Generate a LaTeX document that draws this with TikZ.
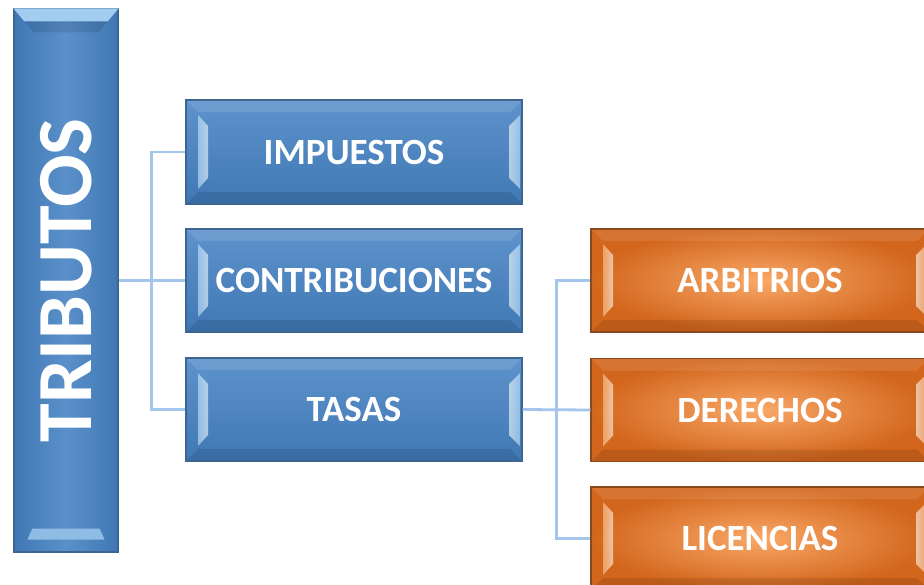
\documentclass[tikz,border=0pt]{standalone}
\usepackage{fontspec}
\setmainfont{Carlito}
\definecolor{bluetop}{HTML}{5E93CC}
\definecolor{bluebot}{HTML}{3F78B4}
\definecolor{blueedge}{HTML}{3C6690}
\definecolor{orgout}{HTML}{D2661C}
\definecolor{orgin}{HTML}{F9A868}
\definecolor{orgedge}{HTML}{8A4A1E}
\definecolor{connblue}{HTML}{A4C6EC}
\definecolor{cyanlight}{HTML}{BFE6FF}
\definecolor{peach}{HTML}{FFC894}
\newcommand\hbevel[1]{%
  \fill[white,opacity=0.10] (path picture bounding box.north west) -- (path picture bounding box.north east)
     -- ([shift={(-12,12)}]path picture bounding box.north east) -- ([shift={(12,12)}]path picture bounding box.north west) -- cycle;
  \fill[black,opacity=0.10] (path picture bounding box.south west) -- (path picture bounding box.south east)
     -- ([shift={(-12,-12)}]path picture bounding box.south east) -- ([shift={(12,-12)}]path picture bounding box.south west) -- cycle;
  \shade[left color=#1, right color=#1!55!black!0, opacity=0.6] ([shift={(12,15)}]path picture bounding box.north west)
     -- ([shift={(22,26)}]path picture bounding box.north west) -- ([shift={(22,-26)}]path picture bounding box.south west)
     -- ([shift={(12,-15)}]path picture bounding box.south west) -- cycle;
  \shade[left color=#1!30!white!0, right color=#1, opacity=0.6] ([shift={(-2,15)}]path picture bounding box.north east)
     -- ([shift={(-13,26)}]path picture bounding box.north east) -- ([shift={(-13,-26)}]path picture bounding box.south east)
     -- ([shift={(-2,-15)}]path picture bounding box.south east) -- cycle;
}
\tikzset{
  conn/.style={draw=connblue, line width=2.8pt},
  basebox/.style={rectangle, inner sep=0pt, text=white, line width=1.2pt,
     font=\bfseries\fontsize{37}{44}\selectfont},
  bluebox/.style={basebox, minimum width=336pt, minimum height=104pt,
     top color=bluetop, bottom color=bluebot, draw=blueedge, path picture={\hbevel{cyanlight}}},
  orangebox/.style={basebox, minimum width=338pt, minimum height=103pt,
     inner color=orgin, outer color=orgout, draw=orgedge, path picture={\hbevel{peach}}},
  bigbox/.style={rectangle, inner sep=0pt, minimum width=104pt, minimum height=543pt,
     left color=bluebot, right color=bluebot, middle color=bluetop!90!bluebot, draw=blueedge, line width=1.2pt,
     text=white}
}
\begin{document}
\begin{tikzpicture}[x=1pt,y=-1pt]
\useasboundingbox (0,0) rectangle (924,584);
\clip (0,0) rectangle (924,584);
\fill[white] (0,0) rectangle (924,584);
% main vertical box
\node[bigbox] (trib) at (66,280.5) {};
\fill[cyanlight!70!bluetop] (trib.north west) -- (trib.north east) -- ([shift={(-11,13)}]trib.north east) -- ([shift={(11,13)}]trib.north west) -- cycle;
\fill[black,opacity=0.1] ([shift={(11,13)}]trib.north west) -- ([shift={(-11,13)}]trib.north east) -- ([shift={(-20,24)}]trib.north east) -- ([shift={(20,24)}]trib.north west) -- cycle;
\fill[cyanlight!50!bluetop] ([shift={(19,-24)}]trib.south west) -- ([shift={(-19,-24)}]trib.south east) -- ([shift={(-14,-13)}]trib.south east) -- ([shift={(14,-13)}]trib.south west) -- cycle;
\node[text=white, font=\bfseries\fontsize{78}{84}\selectfont, rotate=90] (tribt) at (trib.center) {TRIBUTOS};
% blue boxes
\node[bluebox] (imp) at (354,152) {IMPUESTOS};
\node[bluebox, minimum height=103pt] (con) at (354,280.5) {CONTRIBUCIONES};
\node[bluebox, minimum height=103pt] (tas) at (354,409.5) {TASAS};
% orange boxes
\node[orangebox] (arb) at (760,280.5) {ARBITRIOS};
\node[orangebox] (der) at (760,410) {DERECHOS};
\node[orangebox] (lic) at (760,538.5) {LICENCIAS};
% connectors
\draw[conn] (trib.east) -- (con.west);
\draw[conn] (imp.west) -- ++(-34,0) |- (tas.west);
\draw[conn] (tas.east) -- (der.west);
\draw[conn] (arb.west) -- ++(-34,0) |- (lic.west);
\end{tikzpicture}
\end{document}
